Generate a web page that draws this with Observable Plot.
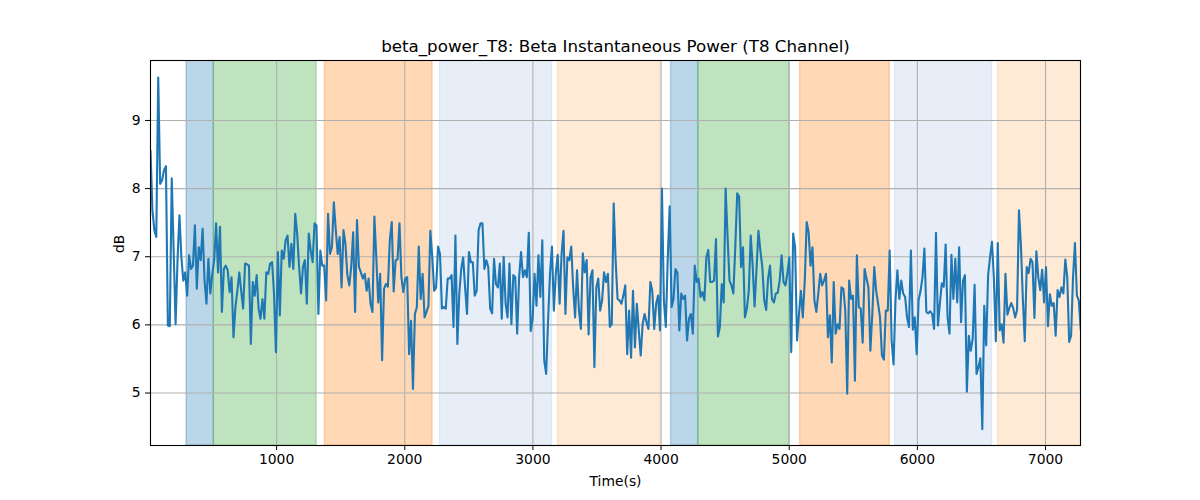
<!DOCTYPE html>
<html>
<head>
<meta charset="utf-8">
<script src="https://cdn.jsdelivr.net/npm/d3@7"></script>
<script src="https://cdn.jsdelivr.net/npm/@observablehq/plot@0.6"></script>
<style>
  html, body { margin: 0; padding: 0; background: white; }
  #chart { width: 1200px; height: 500px; }
</style>
</head>
<body>
<div id="chart"></div>
<script>
const titleText = "beta_power_T8: Beta Instantaneous Power (T8 Channel)";
const xLabel = "Time(s)";
const yLabel = "dB";
const xTicks = [1000, 2000, 3000, 4000, 5000, 6000, 7000];
const yTicks = [5, 6, 7, 8, 9];
const xDomain = [16, 7273];
const yDomain = [4.23, 9.88];

// sample grid of the signal
const tStart = 16;
const tStep = 15.06;

// beta power values (dB)
const power = [
 8.56,7.68,7.39,7.29,9.63,8.07,8.12,8.27,8.33,5.99,
 5.98,8.15,7.09,6.01,6.95,7.61,6.99,6.65,6.77,6.43,
 7.02,6.82,6.87,7.46,6.53,7.14,6.95,7.41,6.65,6.31,
 6.97,6.46,6.75,6.95,7.49,6.77,7.44,6.19,6.82,6.87,
 6.80,6.48,6.70,5.82,6.26,6.50,6.77,6.50,6.24,6.90,
 6.89,6.87,5.72,6.63,6.43,6.73,6.24,6.09,6.38,6.09,
 6.77,6.75,6.90,6.92,6.46,5.60,7.07,6.14,7.09,6.97,
 7.24,7.31,6.85,7.19,6.82,7.63,7.34,6.85,6.46,
 6.85,6.95,6.31,7.34,7.09,6.92,7.49,7.46,6.16,7.09,
 6.87,6.87,6.36,7.63,7.04,7.14,7.80,7.39,7.04,7.29,
 6.55,7.39,7.19,6.73,6.58,6.85,7.36,6.19,7.54,6.85,
 6.77,6.68,6.75,6.50,6.68,6.31,6.19,7.59,6.99,6.33,
 6.75,5.48,6.53,6.60,6.56,7.24,7.51,6.49,6.95,6.96,
 7.49,6.70,6.48,6.68,6.70,5.57,6.06,5.06,6.16,6.26,
 7.15,6.38,6.75,6.11,6.19,6.28,7.38,6.99,6.50,6.55,
 7.15,7.04,6.24,6.26,6.24,6.68,6.68,6.73,5.97,7.31,
 5.72,
 6.46,6.82,6.99,6.55,6.16,7.07,6.92,6.92,6.43,6.50,
 7.39,7.49,7.49,6.82,6.95,6.85,6.24,6.17,6.97,6.60,
 6.55,6.90,6.09,7.00,6.31,6.11,6.90,6.01,6.73,6.70,
 5.87,6.70,7.07,6.70,6.80,6.70,7.35,5.91,6.09,6.75,
 6.28,7.02,6.41,7.24,5.48,5.28,6.06,6.75,7.15,6.21,
 6.75,7.03,6.31,7.04,7.38,6.16,6.99,6.95,7.15,6.55,
 6.11,6.80,6.21,5.94,7.05,6.77,6.95,5.86,6.70,6.80,
 5.38,6.55,6.68,6.21,6.36,6.77,6.63,6.75,5.97,6.01,
 7.78,
 6.95,6.38,6.36,6.31,6.43,6.58,5.57,6.21,5.52,6.50,
 5.67,6.31,5.92,5.55,6.01,6.16,6.04,5.94,6.63,6.50,
 5.94,6.31,6.43,5.92,8.00,6.36,5.97,6.97,7.74,6.26,
 6.38,6.82,6.77,5.92,6.46,6.38,6.43,5.77,6.09,6.16,
 5.87,6.87,6.63,6.68,6.41,6.48,6.36,6.99,7.10,6.63,
 6.63,6.65,7.26,5.83,5.97,6.60,6.33,8.00,7.29,6.65,
 6.58,6.46,7.14,7.93,7.88,6.85,7.14,6.11,6.24,6.50,
 7.31,6.87,6.27,6.82,7.38,7.09,6.85,6.36,6.22,6.68,
 6.87,
 6.38,6.33,6.46,6.47,6.65,7.02,6.63,6.58,6.76,6.99,
 5.60,7.34,7.14,5.77,6.16,6.50,6.11,6.65,7.51,7.36,
 6.87,7.14,6.36,6.19,6.46,6.75,6.58,6.65,6.75,5.82,
 6.14,5.45,6.63,5.87,6.01,5.94,6.55,6.53,6.21,4.99,
 6.65,6.38,6.43,5.18,7.02,6.26,6.24,5.74,6.82,6.68,
 6.55,5.62,6.16,6.85,6.50,6.31,6.11,5.55,5.49,6.21,
 6.21,7.09,5.77,5.42,6.36,6.80,6.38,6.65,6.46,6.41,
 6.11,5.97,7.09,5.93,6.11,5.57,6.37,6.50,6.70,7.12,
 6.19,6.17,6.20,6.16,5.94,7.35,5.99,6.31,6.61,6.56,
 7.18,6.11,5.87,7.03,6.38,6.97,6.33,7.14,6.04,6.65,
 6.73,5.02,5.84,5.62,5.79,6.59,5.28,5.38,5.51,4.47,
 6.28,5.70,6.73,6.99,7.22,6.68,5.76,7.20,5.92,6.01,
 5.74,6.75,6.15,6.25,6.32,6.25,6.11,6.22,7.68,7.17,
 6.38,5.76,6.85,6.76,6.97,6.92,6.10,7.08,6.70,6.51,
 6.81,6.33,6.85,5.98,6.45,6.28,6.32,5.84,6.51,6.41,
 6.55,6.46,6.96,6.70,5.75,5.84,6.70,7.20,6.43,6.36,
 5.93
];

// shaded intervals
const bandStart = [297, 510, 1377, 2275, 3196, 4078, 4291, 5085, 5826, 6630];
const bandEnd   = [510, 1312, 2217, 3149, 3997, 4291, 5001, 5785, 6583, 7290];
const bandColor = ["#1f77b4", "#2ca02c", "#ff7f0e", "#aec7e8", "#ffbb78",
                   "#1f77b4", "#2ca02c", "#ff7f0e", "#aec7e8", "#ffbb78"];

const series = power.map((v, i) => ({t: tStart + i * tStep, v}));
const bands = bandStart.map((s, i) => ({start: s, end: bandEnd[i], color: bandColor[i]}));

const font = "DejaVu Sans, sans-serif";

const chart = Plot.plot({
  width: 1200,
  height: 500,
  marginLeft: 150,
  marginRight: 120,
  marginTop: 60,
  marginBottom: 55,
  style: {fontFamily: font, fontSize: "13.9px", background: "white", color: "black"},
  x: {domain: xDomain, label: null},
  y: {domain: yDomain, label: null},
  marks: [
    Plot.rect(bands, {x1: "start", x2: "end", fill: "color", fillOpacity: 0.3,
                      stroke: "color", strokeOpacity: 0.3, strokeWidth: 1.4, clip: true}),
    Plot.gridX(xTicks, {stroke: "#b0b0b0", strokeOpacity: 1, strokeWidth: 1.1}),
    Plot.gridY(yTicks, {stroke: "#b0b0b0", strokeOpacity: 1, strokeWidth: 1.1}),
    Plot.line(series, {x: "t", y: "v", stroke: "#1f77b4", strokeWidth: 2.1, clip: true}),
    Plot.frame({stroke: "black", strokeWidth: 1.1}),
    Plot.axisX(xTicks, {tickSize: 5, tickPadding: 4, tickFormat: d => String(d), label: null}),
    Plot.axisY(yTicks, {tickSize: 5, tickPadding: 5, tickFormat: d => String(d), label: null}),
    Plot.text([titleText], {frameAnchor: "top", dy: -14, fontSize: 16.7, lineAnchor: "middle", fill: "black"}),
    Plot.text([xLabel], {frameAnchor: "bottom", dy: 36, fontSize: 13.9, lineAnchor: "middle", fill: "black"}),
    Plot.text([yLabel], {frameAnchor: "left", dx: -31, rotate: -90, fontSize: 13.9, fill: "black"})
  ]
});
document.getElementById("chart").appendChild(chart);
</script>
</body>
</html>
